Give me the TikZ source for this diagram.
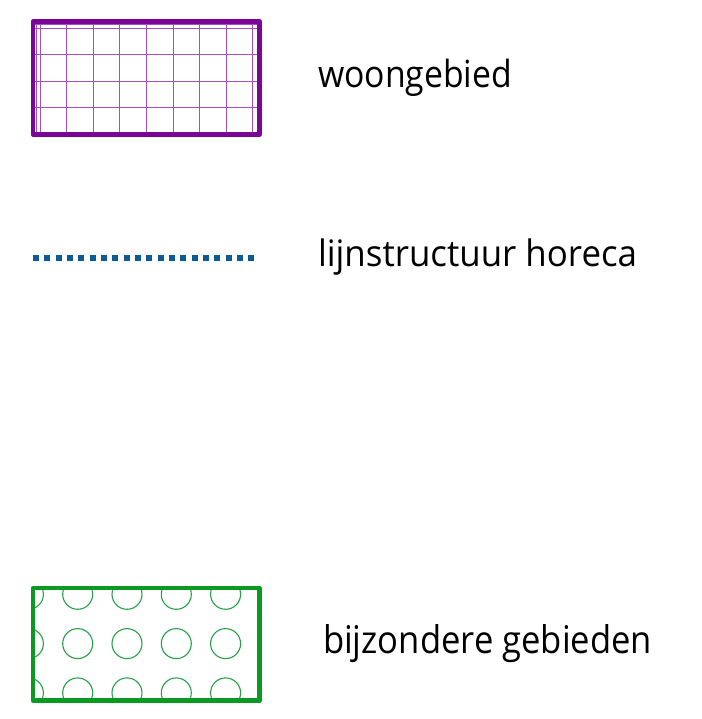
\documentclass[tikz,border=0pt]{standalone}
\usepackage{fontspec}
\setmainfont{Open Sans}
\usepackage{graphicx}
\definecolor{wpurple}{HTML}{7A0596}
\definecolor{wgrid}{HTML}{A24FC2}
\definecolor{hblue}{HTML}{0B5B95}
\definecolor{bgreen}{HTML}{0A9A22}
\definecolor{cgreen}{HTML}{26A048}
\tikzset{
  legendtext/.style={anchor=base west, inner sep=0pt, outer sep=0pt, text=black},
  purpleframe/.style={draw=wpurple, line width=4.5pt, line join=round},
  gridline/.style={draw=wgrid, line width=1pt},
  greenframe/.style={draw=bgreen, line width=4.5pt, line join=round},
  circline/.style={draw=cgreen, line width=1.1pt},
  horecaline/.style={draw=hblue, line width=6pt, dash pattern=on 6pt off 5.33pt}
}
\begin{document}
\begin{tikzpicture}[x=1pt, y=-1pt]
\useasboundingbox (0,0) rectangle (701,719);
% woongebied symbol
\begin{scope}
  \clip (33,21.5) rectangle (259.5,134.5);
  \foreach \xx in {36.7,40,66.6,93.2,119.8,146.4,173,199.6,226.2,252.8}
    \draw[gridline] (\xx,21.5) -- (\xx,134.5);
  \foreach \yy in {25,28.3,54.7,81.1,107.5}
    \draw[gridline] (33,\yy) -- (259.5,\yy);
\end{scope}
\draw[purpleframe] (33,21.5) rectangle (259.5,134.5);
\node[legendtext] (t1) at (318,87.7) {\resizebox{194pt}{28.4pt}{woongebied}};
% horeca line
\coordinate (h1) at (33,257.5);
\coordinate (h2) at (254.5,257.5);
\draw[horecaline] (h1) -- (h2);
\node[legendtext] (t2) at (318,266.7) {\resizebox{319pt}{27.7pt}{lijnstructuur horeca}};
% bijzondere gebieden symbol
\begin{scope}
  \clip (33,588) rectangle (259.5,700.5);
  \foreach \xx in {28.4,77.7,127,176.3,225.6}
    \foreach \yy in {594.3,643.6,692.9}
      \draw[circline] (\xx,\yy) circle (15);
\end{scope}
\draw[greenframe] (33,588) rectangle (259.5,700.5);
\node[legendtext] (t3) at (323,653.3) {\resizebox{329pt}{29pt}{bijzondere gebieden}};
\end{tikzpicture}
\end{document}
